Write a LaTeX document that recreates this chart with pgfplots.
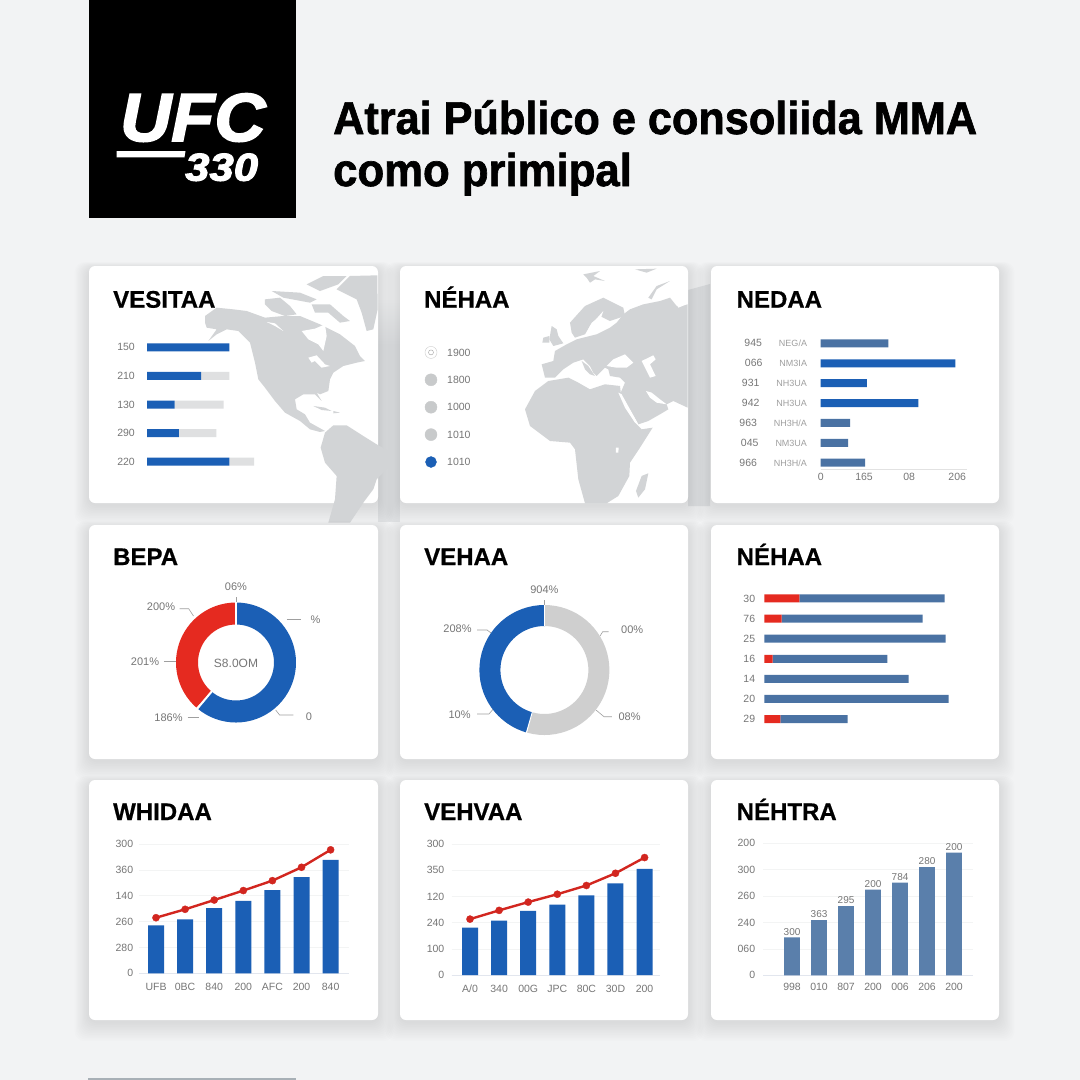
\documentclass[border=0pt]{standalone}
\usepackage{fontspec}
\usepackage{pgfplots}
\pgfplotsset{compat=1.18}
\usepgfplotslibrary{polar}
\setmainfont{Liberation Sans}
\newfontfamily\heavy[BoldFeatures={FakeBold=0.6},BoldItalicFeatures={FakeBold=2.5}]{Liberation Sans}
\newfontfamily\heavier[BoldFeatures={FakeBold=1.5}]{Liberation Sans}
\definecolor{bgc}{HTML}{F2F3F4}
\definecolor{bright}{HTML}{1B5FB5}
\definecolor{steel}{HTML}{4A72A3}
\definecolor{steelb}{HTML}{5A7FAB}
\definecolor{redc}{HTML}{E52A20}
\definecolor{lineR}{HTML}{D2261F}
\definecolor{pale}{HTML}{DFE0E1}
\definecolor{mapc}{HTML}{D2D4D6}
\definecolor{labc}{HTML}{767676}
\definecolor{labl}{HTML}{9F9F9F}
\definecolor{gapa}{HTML}{E1E3E5}
\definecolor{gapb}{HTML}{E0E2E4}
\definecolor{stripc}{HTML}{A8B0B6}
\definecolor{ringc}{HTML}{CCCCCC}
\definecolor{dotc}{HTML}{C8CACB}
\definecolor{basec}{HTML}{E2E2E2}
\definecolor{baseb}{HTML}{E2E6EE}
\definecolor{gridc}{HTML}{F3F4F4}
\definecolor{donutg}{HTML}{CFCFCF}
\newcommand{\fs}[1]{\fontsize{#1}{#1}\selectfont}
\newcommand{\cardbox}[4]{%
  \foreach \i in {1,...,12}{\fill[black,opacity=0.009,rounded corners=10] (#1-\i*1.2,#2-\i*0.5+2) rectangle (#3+\i*1.3,#4+\i*1.6+2);}
  \fill[white,rounded corners=6] (#1,#2) rectangle (#3,#4);}
\newcommand{\cardtitle}[3]{\node[anchor=base west,inner sep=0pt] at (#1,#2) {\fs{24}\heavy\bfseries #3};}
\newcommand{\lab}[3]{\node[inner sep=0pt,text=labc] at (#1,#2) {\fs{11}#3};}
\pgfplotsset{
  card/.style={scale only axis,clip=false,axis line style={draw=none},major tick length=0pt,
    tick style={draw=none},
    yticklabel style={inner sep=0pt,font=\fs{10.5},text=labc},
    xticklabel style={inner sep=0pt,font=\fs{10.5},text=labc}},
  donut/.style={scale only axis,hide axis,clip=false,ymin=0,ymax=1,anchor=center},
}
\begin{document}
\begin{tikzpicture}
\path[use as bounding box] (0pt,0pt) rectangle (1080pt,-1080pt);
\begin{scope}[x=1pt,y=-1pt]
\fill[bgc] (0,0) rectangle (1080,1080);
% gap shading behind the map
\shade[top color=bgc,bottom color=gapa] (378,298) rectangle (400,345);
\fill[gapa] (378,345) rectangle (400,522);
\fill[gapb] (688,290) -- (710,284) -- (710,506) -- (688,506) -- cycle;
% row 1 cards
\cardbox{89}{266}{378}{503}
\cardbox{400}{266}{688}{503}
\cardbox{711}{266}{999}{503}
% map: the Americas
\begin{scope}[shift={(200,266)},x=0.3333pt,y=-0.3333pt]
\fill[mapc] (15,150)--(50,125)--(100,130)--(140,135)--(195,155)--(250,150)--(300,150)--(360,175)--(380,185)--(420,205)--(465,240)--(480,270)--(495,285)--(470,290)--(430,300)--(400,320)--(390,340)--(385,375)--(360,385)--(350,380)--(365,405)--(345,385)--(310,385)--(285,400)--(290,430)--(315,445)--(330,470)--(375,495)--(360,498)--(330,490)--(300,465)--(255,440)--(225,405)--(195,365)--(175,340)--(165,290)--(150,230)--(115,195)--(80,190)--(50,205)--(25,225)--(50,190)--(20,185)--(15,170)--cycle;
\fill[white] (305,195)--(345,188)--(375,175)--(380,210)--(370,255)--(355,235)--(325,220)--cycle;
\fill[white] (200,168)--(225,172)--(250,195)--(225,180)--cycle;
\fill[white] (325,275)--(350,268)--(375,295)--(390,300)--(365,305)--(345,285)--(335,290)--cycle;
\fill[mapc] (195,100)--(240,95)--(270,120)--(290,145)--(255,150)--(215,135)--(195,115)--cycle;
\fill[mapc] (215,75)--(300,80)--(350,100)--(330,110)--(250,95)--cycle;
\fill[mapc] (335,115)--(390,115)--(430,150)--(450,165)--(420,170)--(385,140)--(345,140)--cycle;
\fill[mapc] (320,55)--(370,30)--(440,30)--(415,55)--(360,75)--cycle;
\fill[mapc] (410,70)--(450,30)--(532,28)--(533,130)--(520,190)--(500,195)--(485,140)--(470,100)--cycle;
\fill[mapc] (340,420)--(375,425)--(395,435)--(365,432)--cycle;
\fill[mapc] (400,435)--(420,440)--(400,442)--cycle;
\fill[mapc] (375,500)--(400,478)--(440,478)--(490,510)--(530,535)--(575,560)--(570,600)--(530,640)--(520,670)--(490,710)--(450,770)--(385,770)--(405,700)--(410,630)--(375,590)--(362,545)--cycle;
\end{scope}
% map: Europe, Africa, Asia
\begin{scope}[shift={(510,266)},x=0.3333pt,y=-0.3333pt]
\fill[mapc] (135,255)--(170,235)--(200,220)--(260,205)--(300,185)--(320,170)--(340,145)--(360,130)--(400,115)--(450,105)--(480,95)--(500,120)--(533,115)--(533,425)--(490,405)--(470,415)--(475,430)--(450,445)--(415,465)--(385,475)--(365,440)--(330,385)--(345,350)--(330,335)--(300,330)--(295,310)--(285,305)--(260,330)--(250,320)--(240,300)--(220,280)--(205,285)--(190,290)--(160,310)--(135,335)--(105,335)--(95,295)--(130,285)--cycle;
\fill[mapc] (180,170)--(225,120)--(280,95)--(340,125)--(345,150)--(300,165)--(270,150)--(245,170)--(225,205)--(195,215)--(185,200)--cycle;
\fill[white] (240,180)--(280,135)--(268,170)--(295,180)--(270,195)--(225,212)--cycle;
\fill[mapc] (125,180)--(140,190)--(145,210)--(160,232)--(130,240)--(118,220)--cycle;
\fill[mapc] (100,215)--(118,210)--(118,230)--(97,230)--cycle;
\fill[white] (290,300)--(310,280)--(345,265)--(370,290)--(350,305)--(320,305)--cycle;
\fill[white] (395,285)--(430,268)--(437,280)--(420,295)--(437,330)--(420,335)--(405,305)--cycle;
\fill[white] (408,375)--(425,380)--(450,400)--(470,415)--(440,410)--(420,395)--cycle;
\fill[mapc] (215,285)--(235,300)--(255,330)--(240,325)--(225,310)--cycle;
\fill[mapc] (115,345)--(175,335)--(205,350)--(240,370)--(285,355)--(330,360)--(335,400)--(375,470)--(395,490)--(428,485)--(390,545)--(360,590)--(358,630)--(325,690)--(290,712)--(225,712)--(205,640)--(195,550)--(180,530)--(120,525)--(60,480)--(45,430)--(75,375)--cycle;
\fill[white] (325,380)--(335,385)--(385,475)--(375,470)--(345,425)--cycle;
\fill[white] (318,545)--(326,545)--(325,560)--(318,560)--cycle;
\fill[mapc] (395,630)--(415,622)--(405,670)--(385,695)--(378,675)--cycle;
\fill[mapc] (220,25)--(270,15)--(250,30)--(285,45)--(255,40)--(240,50)--(230,35)--cycle;
\fill[mapc] (375,10)--(440,8)--(410,20)--cycle;
\fill[mapc] (415,95)--(440,60)--(480,45)--(440,70)--(425,100)--cycle;
\fill[white] (485,85)--(505,80)--(530,115)--(505,125)--cycle;
\end{scope}
% rows 2 and 3
\cardbox{89}{525}{378}{759}
\cardbox{400}{525}{688}{759}
\cardbox{711}{525}{999}{759}
\cardbox{89}{780}{378}{1020}
\cardbox{400}{780}{688}{1020}
\cardbox{711}{780}{999}{1020}
% header
\fill[black] (89,0) rectangle (296,218);
\node[anchor=base west,inner sep=0pt,text=white] at (120,141) {\scalebox{1.04}[1]{\fs{68}\heavy\bfseries\itshape UFC}};
\fill[white] (116.7,151) -- (185.5,151) -- (184.5,157.3) -- (116.7,157.3) -- cycle;
\node[anchor=base west,inner sep=0pt,text=white] at (185,180.7) {\scalebox{1.12}[1]{\fs{39}\heavy\bfseries\itshape 330}};
\node[anchor=base west,inner sep=0pt] at (333,134) {\scalebox{0.94}[1]{\fs{46}\heavier\bfseries Atrai Público e consoliida MMA}};
\node[anchor=base west,inner sep=0pt] at (333,186) {\scalebox{0.95}[1]{\fs{46}\heavier\bfseries como primipal}};
\fill[stripc] (88,1078) rectangle (296,1080);
% panel titles
\cardtitle{113}{307.7}{VESITAA}
\cardtitle{424}{307.7}{NÉHAA}
\cardtitle{736.5}{307.7}{NEDAA}
\cardtitle{113}{565}{BEPA}
\cardtitle{424}{565}{VEHAA}
\cardtitle{736.5}{565}{NÉHAA}
\cardtitle{113}{820}{WHIDAA}
\cardtitle{424}{820}{VEHVAA}
\cardtitle{736.5}{820}{NÉHTRA}
% donut annotation
\begin{scope}[draw=labl,line width=0.6pt]
\draw (236,597)--(236,603);
\draw (179.6,608.7)--(188.7,608.7)--(193.5,616);
\draw (286.8,619.3)--(300.6,619.3);
\draw (163.8,661.7)--(176,661.7);
\draw (187.5,717.3)--(198.6,717.3);
\draw (275.7,710)--(279.6,715)--(293.4,715);
\draw (544.4,600)--(544.4,605);
\draw (477.2,630)--(487.1,630)--(491,633);
\draw (608.6,631.7)--(602.7,631.7)--(600,636);
\draw (477.2,714)--(489,714)--(493,709.3);
\draw (611.8,716.7)--(604,716.7)--(596,710);
\end{scope}
\lab{236}{586.7}{06\%}
\lab{161}{607}{200\%}
\lab{315.6}{620}{\%}
\lab{145}{661.7}{201\%}
\lab{168.5}{717.7}{186\%}
\lab{309}{716.7}{0}
\lab{544.4}{590}{904\%}
\lab{457.5}{628.3}{208\%}
\lab{632.2}{630}{00\%}
\lab{459.6}{715}{10\%}
\lab{629.6}{716.7}{08\%}
\end{scope}

% Card 1: VESITAA
\begin{axis}[card,at={(147pt,-476pt)},anchor=south west,width=107pt,height=143pt,
  xbar stacked,bar width=8pt,xmin=0,xmax=107,ymin=0.5,ymax=5.5,
  xtick=\empty,ytick={1,2,3,4,5},yticklabels={220,290,130,210,150},
  yticklabel style={xshift=-12pt}]
\addplot[fill=bright,draw=none] coordinates {(82.4,1)(31.9,2)(27.5,3)(54,4)(82.4,5)};
\addplot[fill=pale,draw=none] coordinates {(24.6,1)(37.5,2)(49,3)(28.4,4)(0,5)};
\end{axis}

% Card 2: NEHAA
\begin{axis}[card,at={(423pt,-475.7pt)},anchor=south west,width=16pt,height=137pt,
  xmin=-1,xmax=1,ymin=0.5,ymax=5.5,xtick=\empty,ytick={1,2,3,4,5},
  yticklabels={1010,1010,1000,1800,1900},ytick pos=right,yticklabel pos=right,
  yticklabel style={xshift=8pt}]
\addplot[only marks,mark=*,mark size=6pt,mark options={fill=white,draw=ringc}] coordinates {(0,5)};
\addplot[only marks,mark=*,mark size=2.5pt,mark options={fill=white,draw=labl}] coordinates {(0,5)};
\addplot[only marks,mark=*,mark size=6pt,mark options={fill=dotc,draw=dotc}] coordinates {(0,2)(0,3)(0,4)};
\addplot[only marks,mark=*,mark size=5.5pt,mark options={fill=bright,draw=bright}] coordinates {(0,1)};
\end{axis}

% Card 3: NEDAA
\begin{axis}[card,at={(820.7pt,-469.3pt)},anchor=south west,width=146.5pt,height=135.9pt,
  xbar,bar shift=0pt,bar width=8pt,xmin=0,xmax=214.7,ymin=0.67,ymax=7.5,
  axis x line=bottom,axis y line=none,x axis line style={draw=basec,-},
  xtick={0,63.5,129.6,200},xticklabels={0,165,08,206},
  xticklabel style={yshift=-4pt},
  ytick={1,2,3,4,5,6,7}]
\addplot[fill=steel,draw=none] coordinates {(65,1)(40,2)(43,3)(99,7)};
\addplot[fill=bright,draw=none] coordinates {(143,4)(67.5,5)(197.5,6)};
\end{axis}
% its category columns as a second axis on the same rows
\begin{axis}[card,at={(820.7pt,-469.3pt)},anchor=south west,width=146.5pt,height=135.9pt,
  xmin=0,xmax=214.7,ymin=0.67,ymax=7.5,xtick=\empty,ytick={1,2,3,4,5,6,7},
  yticklabels={{966\hspace{17pt}{\color{labl}\fs{9}NH3H/A}},{045\hspace{17pt}{\color{labl}\fs{9}NM3UA}},{963\hspace{17pt}{\color{labl}\fs{9}NH3H/A}},{942\hspace{17pt}{\color{labl}\fs{9}NH3UA}},{931\hspace{17pt}{\color{labl}\fs{9}NH3UA}},{066\hspace{17pt}{\color{labl}\fs{9}NM3IA}},{945\hspace{17pt}{\color{labl}\fs{9}NEG/A}}},
  yticklabel style={xshift=-13.5pt}]
\addplot[draw=none,forget plot] coordinates {(0,1)(0,7)};
\end{axis}

% Card 4: BEPA donut
\begin{polaraxis}[donut,at={(236pt,-662.5pt)},width=98pt,height=98pt]
\addplot[draw=bright,line width=22pt,line cap=butt,line join=round] coordinates {(90,1)(85,1)(80,1)(75,1)(70,1)(65,1)(60,1)(55,1)(50,1)(45,1)(40,1)(35,1)(30,1)(25,1)(20,1)(15,1)(10,1)(5,1)(0,1)(-5,1)(-10,1)(-15,1)(-20,1)(-25,1)(-30,1)(-35,1)(-40,1)(-45,1)(-50,1)(-55,1)(-60,1)(-65,1)(-70,1)(-75,1)(-80,1)(-85,1)(-90,1)(-95,1)(-100,1)(-105,1)(-110,1)(-115,1)(-120,1)(-125,1)(-131,1)};
\addplot[draw=redc,line width=22pt,line cap=butt,line join=round] coordinates {(90,1)(95,1)(100,1)(105,1)(110,1)(115,1)(120,1)(125,1)(130,1)(135,1)(140,1)(145,1)(150,1)(155,1)(160,1)(165,1)(170,1)(175,1)(180,1)(185,1)(190,1)(195,1)(200,1)(205,1)(210,1)(215,1)(220,1)(225,1)(229,1)};
\addplot[draw=white,line width=1.6pt] coordinates {(90,0.76)(90,1.24)};
\addplot[draw=white,line width=2pt] coordinates {(230,0.76)(230,1.24)};
\end{polaraxis}
\begin{scope}[x=1pt,y=-1pt]
\node[text=labc,inner sep=0pt] at (236,663.5) {\fs{12}S8.0OM};
\end{scope}

% Card 5: VEHAA donut
\begin{polaraxis}[donut,at={(544.4pt,-670pt)},width=109pt,height=109pt]
\addplot[draw=donutg,line width=21pt,line cap=butt,line join=round] coordinates {(90,1)(85,1)(80,1)(75,1)(70,1)(65,1)(60,1)(55,1)(50,1)(45,1)(40,1)(35,1)(30,1)(25,1)(20,1)(15,1)(10,1)(5,1)(0,1)(-5,1)(-10,1)(-15,1)(-20,1)(-25,1)(-30,1)(-35,1)(-40,1)(-45,1)(-50,1)(-55,1)(-60,1)(-65,1)(-70,1)(-75,1)(-80,1)(-85,1)(-90,1)(-95,1)(-100,1)(-106,1)};
\addplot[draw=bright,line width=21pt,line cap=butt,line join=round] coordinates {(90,1)(95,1)(100,1)(105,1)(110,1)(115,1)(120,1)(125,1)(130,1)(135,1)(140,1)(145,1)(150,1)(155,1)(160,1)(165,1)(170,1)(175,1)(180,1)(185,1)(190,1)(195,1)(200,1)(205,1)(210,1)(215,1)(220,1)(225,1)(230,1)(235,1)(240,1)(245,1)(250,1)(254,1)};
\addplot[draw=white,line width=1pt] coordinates {(90,0.8)(90,1.2)};
\addplot[draw=white,line width=1pt] coordinates {(254,0.8)(254,1.2)};
\end{polaraxis}

% Card 6: NEHAA stacked bars
\begin{axis}[card,at={(764.3pt,-729.1pt)},anchor=south west,width=190pt,height=140.7pt,
  xbar stacked,bar width=8pt,xmin=0,xmax=190,ymin=0.5,ymax=7.5,
  xtick=\empty,ytick={1,2,3,4,5,6,7},yticklabels={29,20,14,16,25,76,30},
  yticklabel style={xshift=-9pt}]
\addplot[fill=redc,draw=none] coordinates {(16,1)(0,2)(0,3)(8.4,4)(0,5)(17.4,6)(35,7)};
\addplot[fill=steel,draw=none] coordinates {(67.4,1)(184.4,2)(144.4,3)(114.6,4)(181.4,5)(141,6)(145.4,7)};
\end{axis}

% Card 7: WHIDAA
\begin{axis}[card,at={(139.3pt,-973.3pt)},anchor=south west,width=209.5pt,height=129.3pt,
  ybar,bar width=16pt,bar shift=0pt,xmin=-0.574,xmax=6.625,ymin=0,ymax=300,
  xtick={0,1,2,3,4,5,6},xticklabels={UFB,0BC,840,200,AFC,200,840},
  ytick={0,60,120,180,240,300},yticklabels={0,280,260,140,360,300},
  ymajorgrids,grid style={gridc,line width=0.6pt},
  xticklabel style={yshift=-10pt},yticklabel style={xshift=-6pt}]
\draw[baseb,line width=0.6pt] (axis cs:-0.574,0) -- (axis cs:6.625,0);
\addplot[fill=bright,draw=none] coordinates {(0,111)(1,125)(2,151)(3,168)(4,193)(5,223)(6,263)};
\addplot[sharp plot,draw=lineR,line width=2.4pt,mark=*,mark size=3.6pt,mark options={fill=lineR,draw=lineR,line width=0.3pt}] coordinates {(0,129)(1,148.5)(2,170)(3,192)(4,215)(5,246)(6,286.5)};
\end{axis}

% Card 8: VEHVAA
\begin{axis}[card,at={(451.5pt,-975pt)},anchor=south west,width=208.5pt,height=131pt,
  ybar,bar width=16pt,bar shift=0pt,xmin=-0.636,xmax=6.53,ymin=0,ymax=300,
  xtick={0,1,2,3,4,5,6},xticklabels={A/0,340,00G,JPC,80C,30D,200},
  ytick={0,60,120,180,240,300},yticklabels={0,100,240,120,350,300},
  ymajorgrids,grid style={gridc,line width=0.6pt},
  xticklabel style={yshift=-10pt},yticklabel style={xshift=-7pt}]
\draw[baseb,line width=0.6pt] (axis cs:-0.636,0) -- (axis cs:6.53,0);
\addplot[fill=bright,draw=none] coordinates {(0,108.3)(1,124.3)(2,146.6)(3,161)(4,182.5)(5,210)(6,243)};
\addplot[sharp plot,draw=lineR,line width=2.4pt,mark=*,mark size=3.6pt,mark options={fill=lineR,draw=lineR,line width=0.3pt}] coordinates {(0,128)(1,148)(2,167)(3,185)(4,205)(5,233)(6,269)};
\end{axis}

% Card 9: NEHTRA
\begin{axis}[card,at={(763.3pt,-975.3pt)},anchor=south west,width=209.4pt,height=132pt,
  ybar,bar width=15.7pt,bar shift=0pt,xmin=-1.065,xmax=6.69,ymin=0,ymax=300,
  xtick={0,1,2,3,4,5,6},xticklabels={998,010,807,200,006,206,200},
  ytick={0,60,120,180,240,300},yticklabels={0,060,240,260,300,200},
  ymajorgrids,grid style={gridc,line width=0.6pt},
  xticklabel style={yshift=-8pt},yticklabel style={xshift=-8pt},
  nodes near coords,point meta=explicit symbolic,
  every node near coord/.append style={font=\fs{10},text=labc,inner sep=1pt,yshift=1pt}]
\draw[baseb,line width=0.6pt] (axis cs:-1.065,0) -- (axis cs:6.69,0);
\addplot[fill=steelb,draw=none] coordinates {(0,86.4)[300] (1,125.7)[363] (2,157)[295] (3,195)[200] (4,210.5)[784] (5,246)[280] (6,278.7)[200]};
\end{axis}
\end{tikzpicture}
\end{document}
